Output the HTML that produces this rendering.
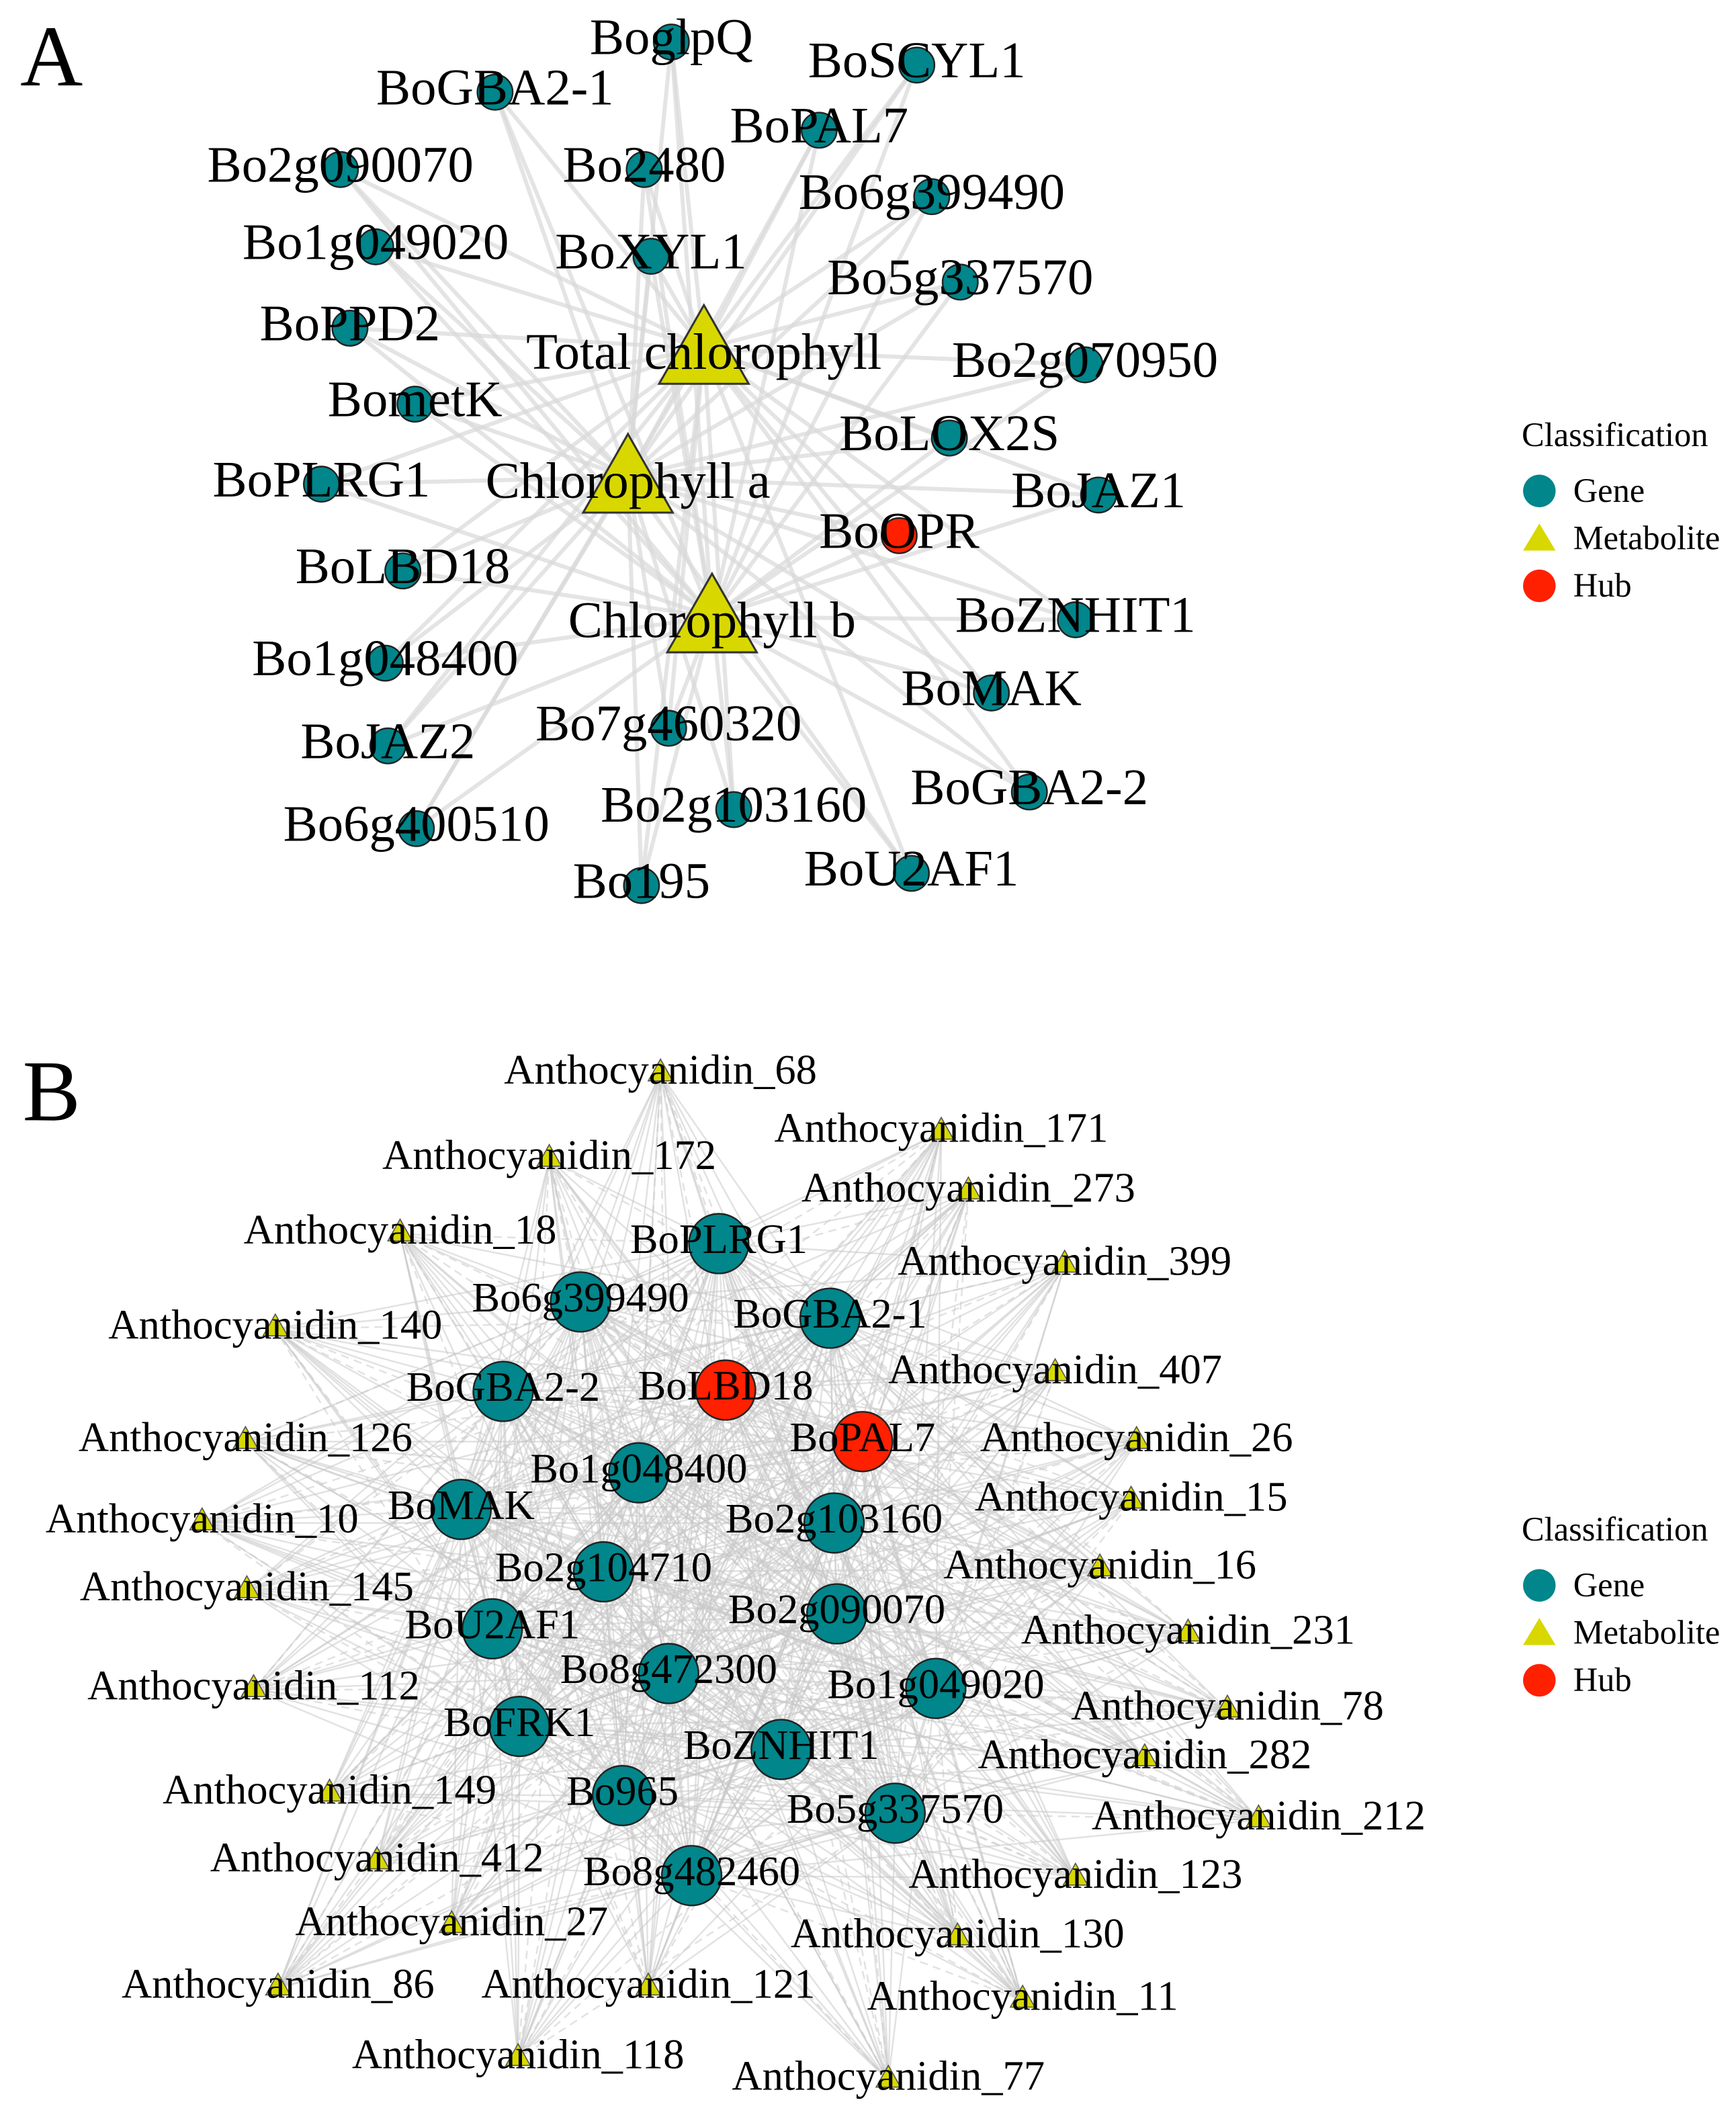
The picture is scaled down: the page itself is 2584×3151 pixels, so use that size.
<!DOCTYPE html>
<html><head><meta charset="utf-8">
<style>
html,body{margin:0;padding:0;background:#fff;}
svg{display:block;}
text{font-family:"Liberation Serif",serif;fill:#000;}
</style></head>
<body>
<svg id="fig" xmlns="http://www.w3.org/2000/svg" width="2584" height="3151" viewBox="0 0 1280 1561" preserveAspectRatio="none">
<rect width="1280" height="1561" fill="#fff"/>
<g id="edgesA"></g>
<g id="nodesA"></g>
<g id="edgesB"></g>
<g id="nodesB"></g>
<text x="38" y="63" font-size="64" text-anchor="middle">A</text>
<text x="38" y="826" font-size="64" text-anchor="middle">B</text>
<g>
<text x="1122" y="329" font-size="25">Classification</text>
<circle cx="1135" cy="362" r="12" fill="#00868b"/><text x="1160" y="370" font-size="25">Gene</text>
<polygon points="1135,386 1147,406 1123,406" fill="#d8d800"/><text x="1160" y="405" font-size="25">Metabolite</text>
<circle cx="1135" cy="432" r="12" fill="#ff2000"/><text x="1160" y="440" font-size="25">Hub</text>
</g>
<g>
<text x="1122" y="1136" font-size="25">Classification</text>
<circle cx="1135" cy="1169" r="12" fill="#00868b"/><text x="1160" y="1177" font-size="25">Gene</text>
<polygon points="1135,1193 1147,1213 1123,1213" fill="#d8d800"/><text x="1160" y="1212" font-size="25">Metabolite</text>
<circle cx="1135" cy="1239" r="12" fill="#ff2000"/><text x="1160" y="1247" font-size="25">Hub</text>
</g>
</svg>
<script>
const NS="http://www.w3.org/2000/svg";
// Network A
const metaA=[["Total chlorophyll",519,257],["Chlorophyll a",463,352],["Chlorophyll b",525,455]];
const genesA=[["BoglpQ",495,31,0],["BoGBA2-1",365,68,0],["BoSCYL1",676,48,0],["BoPAL7",604,96,0],["Bo2g090070",251,125,0],["Bo2480",475,125,0],["Bo6g399490",687,145,0],["Bo1g049020",277,182,0],["BoXYL1",480,189,0],["Bo5g337570",708,208,0],["BoPPD2",258,242,0],["Bo2g070950",800,269,0],["BometK",306,298,0],["BoLOX2S",700,323,0],["BoPLRG1",237,357,0],["BoJAZ1",810,365,0],["BoOPR",663,395,1],["BoLBD18",297,421,0],["BoZNHIT1",793,457,0],["Bo1g048400",284,489,0],["BoMAK",731,511,0],["Bo7g460320",493,537,0],["BoJAZ2",286,550,0],["BoGBA2-2",759,584,0],["Bo2g103160",541,597,0],["Bo6g400510",307,611,0],["BoU2AF1",672,644,0],["Bo195",473,653,0]];
// Network B
const genesB=[["BoPLRG1",530,917,0],["Bo6g399490",428,960,0],["BoGBA2-1",612,972,0],["BoGBA2-2",371,1026,0],["BoLBD18",535,1025,1],["BoPAL7",636,1063,1],["Bo1g048400",471,1086,0],["BoMAK",340,1113,0],["Bo2g103160",615,1123,0],["Bo2g104710",445,1159,0],["Bo2g090070",617,1190,0],["BoU2AF1",363,1201,0],["Bo8g472300",493,1234,0],["Bo1g049020",690,1245,0],["BoFRK1",383,1273,0],["BoZNHIT1",576,1290,0],["Bo965",459,1324,0],["Bo5g337570",660,1337,0],["Bo8g482460",510,1383,0]];
const metaB=[["68",487,792],["171",694,835],["172",405,855],["273",714,879],["18",295,910],["399",785,933],["140",203,980],["407",778,1013],["126",181,1063],["26",838,1063],["10",149,1123],["15",834,1107],["145",182,1173],["16",811,1157],["231",876,1205],["112",187,1246],["78",905,1261],["282",844,1297],["149",243,1323],["212",928,1342],["412",278,1373],["123",793,1385],["27",333,1420],["130",706,1429],["86",205,1466],["121",478,1466],["11",754,1475],["118",382,1518],["77",655,1534]];

function mk(tag,attrs,parent){const e=document.createElementNS(NS,tag);for(const k in attrs)e.setAttribute(k,attrs[k]);parent.appendChild(e);return e;}
const eA=document.getElementById('edgesA'),nA=document.getElementById('nodesA');
const eB=document.getElementById('edgesB'),nB=document.getElementById('nodesB');

genesA.forEach(g=>metaA.forEach(m=>{
  const l=mk('line',{x1:g[1],y1:g[2],x2:m[1],y2:m[2],stroke:'#d8d8d8','stroke-width':3,'stroke-opacity':0.7},eA);
  
  
}));
metaA.forEach(m=>{
  const p=mk('polygon',{points:`${m[1]},${m[2]-32} ${m[1]+33},${m[2]+26} ${m[1]-33},${m[2]+26}`,fill:'#d8d800',stroke:'#333','stroke-width':1.5},nA);
  
  
});
genesA.forEach(g=>{
  const c=mk('circle',{cx:g[1],cy:g[2],r:13,fill:g[3]?'#ff2000':'#00868b',stroke:'#222','stroke-width':1.2},nA);
  
  
});
genesA.forEach(g=>{
  const t=mk('text',{x:g[1],y:g[2]+9,'font-size':38,'text-anchor':'middle'},nA);t.textContent=g[0];
  
  
});
metaA.forEach(m=>{
  const t=mk('text',{x:m[1],y:m[2]+15,'font-size':38,'text-anchor':'middle'},nA);t.textContent=m[0];
  
  
});

genesB.forEach((g,i)=>{
  metaB.forEach((m,j)=>{
    const l=mk('line',{x1:g[1],y1:g[2],x2:m[1],y2:m[2],stroke:'#c8c8c8','stroke-width':1.2,'stroke-opacity':0.55},eB);
    if((i+j)%4===0)l.setAttribute('stroke-dasharray','6 4');
    
    
  });
  genesB.forEach((h,k)=>{if(k>i){
    const l=mk('line',{x1:g[1],y1:g[2],x2:h[1],y2:h[2],stroke:'#c8c8c8','stroke-width':1.2,'stroke-opacity':0.55},eB);
    
    
  }});
});
genesB.forEach(g=>{
  const c=mk('circle',{cx:g[1],cy:g[2],r:22,fill:g[3]?'#ff2000':'#00868b',stroke:'#222','stroke-width':1.2},nB);
  
  
});
metaB.forEach(m=>{
  const p=mk('polygon',{points:`${m[1]},${m[2]-11} ${m[1]+9},${m[2]+5} ${m[1]-9},${m[2]+5}`,fill:'#d8d800',stroke:'#555','stroke-width':0.8},nB);
  
  
});
genesB.forEach(g=>{
  const t=mk('text',{x:g[1],y:g[2]+7,'font-size':31,'text-anchor':'middle'},nB);t.textContent=g[0];
  
  
});
metaB.forEach(m=>{
  const t=mk('text',{x:m[1],y:m[2]+7,'font-size':31,'text-anchor':'middle'},nB);t.textContent='Anthocyanidin_'+m[0];
  
  
});
</script>
</body></html>
